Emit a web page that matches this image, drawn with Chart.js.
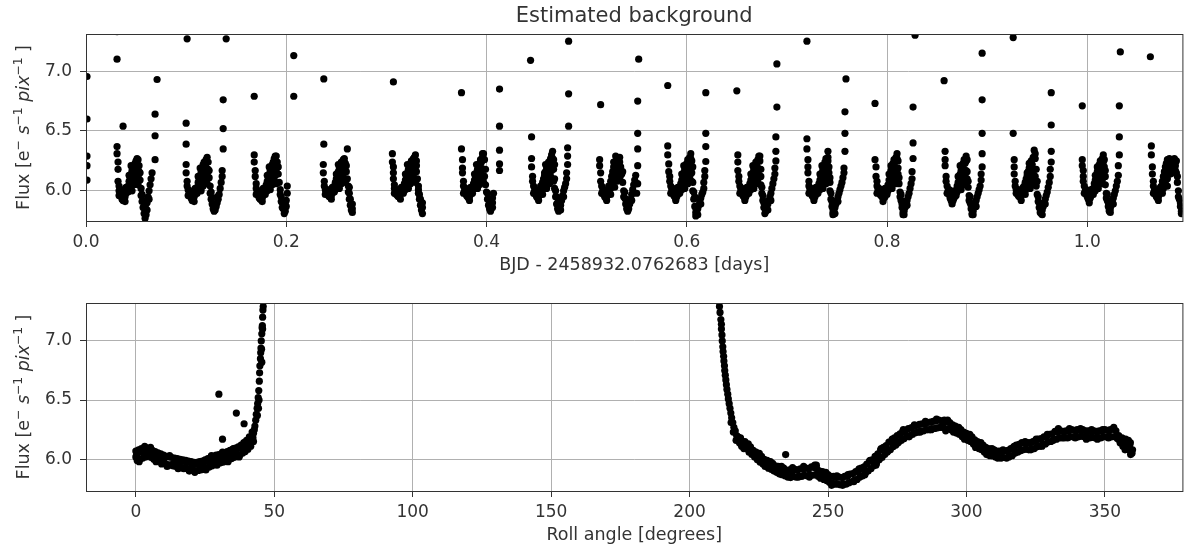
<!DOCTYPE html>
<html>
<head>
<meta charset="utf-8">
<script src="https://cdn.jsdelivr.net/npm/chart.js@4.4.1/dist/chart.umd.min.js"></script>
<style>
  body { margin: 0; background: #fff; }
  canvas { position: absolute; left: 0; }
  #timeChart { top: 0; }
  #rollChart { top: 276px; }
</style>
</head>
<body>
<canvas id="timeChart" width="1186" height="276"></canvas>
<canvas id="rollChart" width="1186" height="276"></canvas>
<script>
// background flux vs time, one block per orbit
const timeOrbits = [
  [0.031,6.37],[0.031,6.31],[0.032,6.24],[0.032,6.18],[0.032,6.08],[0.033,6.04],[0.033,6.00],
  [0.034,5.98],[0.035,5.96],[0.036,5.93],[0.037,5.92],[0.038,5.93],[0.039,5.95],
  [0.040,5.98],[0.041,6.01],[0.042,6.04],[0.043,6.08],[0.044,6.11],[0.045,6.14],[0.046,6.17],[0.047,6.20],[0.048,6.21],[0.049,6.23],[0.050,6.25],[0.051,6.23],[0.052,6.26],[0.053,6.21],
  [0.044,6.02],[0.046,6.06],[0.048,6.09],[0.049,6.13],[0.050,6.16],[0.051,6.19],[0.052,6.12],[0.053,6.16],
  [0.054,6.09],[0.055,6.02],[0.055,5.96],[0.056,5.91],[0.057,5.86],[0.058,5.81],[0.059,5.77],
  [0.060,5.80],[0.060,5.85],[0.061,5.90],[0.062,5.95],[0.063,6.00],[0.064,6.05],[0.065,6.10],[0.066,6.15],

  [0.100,6.22],[0.100,6.15],[0.101,6.08],[0.101,6.04],[0.102,6.01],
  [0.103,5.98],[0.104,5.96],[0.105,5.94],[0.106,5.92],[0.107,5.93],[0.108,5.95],
  [0.109,5.97],[0.110,6.00],[0.111,6.03],[0.112,6.07],[0.113,6.10],[0.114,6.13],[0.115,6.16],[0.116,6.19],[0.117,6.22],[0.118,6.24],[0.119,6.21],[0.120,6.26],[0.121,6.28],[0.122,6.24],
  [0.113,6.01],[0.115,6.04],[0.117,6.08],[0.118,6.12],[0.119,6.15],[0.120,6.19],[0.121,6.13],[0.122,6.18],
  [0.123,6.11],[0.124,6.04],[0.124,5.98],[0.125,5.93],[0.126,5.89],[0.127,5.85],[0.128,5.83],
  [0.129,5.84],[0.130,5.87],[0.131,5.90],[0.132,5.93],[0.133,5.97],[0.134,6.02],[0.135,6.07],[0.136,6.12],[0.136,6.17],

  [0.168,6.30],[0.168,6.24],[0.169,6.17],[0.169,6.12],[0.170,6.06],[0.170,6.02],
  [0.171,5.99],[0.172,5.96],[0.173,5.94],[0.174,5.93],[0.175,5.925],[0.176,5.94],[0.177,5.96],
  [0.178,5.99],[0.179,6.02],[0.180,6.05],[0.181,6.08],[0.182,6.11],[0.183,6.14],[0.184,6.17],[0.185,6.20],[0.186,6.22],[0.187,6.24],[0.188,6.27],[0.189,6.25],[0.190,6.29],[0.191,6.24],
  [0.181,6.00],[0.183,6.04],[0.185,6.08],[0.186,6.12],[0.187,6.16],[0.188,6.19],[0.189,6.13],[0.190,6.18],
  [0.192,6.14],[0.193,6.07],[0.194,6.01],[0.195,5.95],[0.196,5.90],[0.197,5.85],[0.198,5.81],
  [0.199,5.83],[0.200,5.87],[0.200,5.92],[0.201,5.98],[0.201,6.04],

  [0.237,6.22],[0.237,6.15],[0.238,6.08],[0.238,6.04],[0.239,6.01],
  [0.240,5.99],[0.241,5.97],[0.242,5.96],[0.243,5.95],[0.244,5.95],[0.245,5.96],[0.246,5.98],
  [0.247,6.01],[0.248,6.04],[0.249,6.07],[0.250,6.10],[0.251,6.13],[0.252,6.16],[0.253,6.19],[0.254,6.21],[0.255,6.24],[0.256,6.22],[0.257,6.26],[0.258,6.27],[0.259,6.23],
  [0.249,6.01],[0.251,6.05],[0.253,6.09],[0.254,6.13],[0.255,6.17],[0.256,6.19],[0.257,6.14],[0.258,6.18],
  [0.260,6.16],[0.261,6.35],[0.261,6.10],[0.262,6.04],[0.263,5.98],[0.263,5.93],[0.264,5.88],[0.265,5.84],[0.266,5.82],[0.266,5.85],

  [0.306,6.31],[0.306,6.24],[0.307,6.20],[0.307,6.15],[0.307,6.10],[0.308,6.05],[0.308,6.02],
  [0.309,5.99],[0.310,5.97],[0.311,5.96],[0.312,5.95],[0.313,5.95],[0.314,5.97],
  [0.316,6.00],[0.317,6.03],[0.318,6.06],[0.319,6.09],[0.320,6.12],[0.321,6.15],[0.322,6.18],[0.323,6.20],[0.324,6.23],[0.325,6.25],[0.326,6.22],[0.327,6.27],[0.329,6.30],[0.330,6.25],
  [0.319,6.01],[0.321,6.05],[0.323,6.09],[0.324,6.13],[0.325,6.16],[0.326,6.19],[0.327,6.12],[0.328,6.17],
  [0.330,6.16],[0.331,6.10],[0.332,6.04],[0.332,5.98],[0.333,5.93],[0.334,5.88],[0.335,5.84],[0.336,5.81],[0.336,5.86],

  [0.375,6.35],[0.376,6.26],[0.376,6.19],[0.376,6.15],[0.377,6.08],[0.377,6.04],
  [0.378,6.00],[0.379,5.98],[0.380,5.96],[0.381,5.95],[0.382,5.94],[0.383,5.95],[0.384,5.97],
  [0.385,6.00],[0.386,6.03],[0.387,6.06],[0.388,6.09],[0.389,6.12],[0.390,6.15],[0.391,6.18],[0.392,6.21],[0.393,6.23],[0.394,6.26],[0.395,6.24],[0.396,6.28],[0.397,6.31],[0.398,6.26],
  [0.388,6.02],[0.390,6.05],[0.392,6.09],[0.393,6.13],[0.394,6.16],[0.395,6.19],[0.396,6.13],[0.397,6.18],
  [0.398,6.12],[0.399,6.05],[0.400,5.99],[0.401,5.93],[0.402,5.88],[0.403,5.85],[0.404,5.83],
  [0.405,5.86],[0.406,5.90],[0.406,5.94],[0.407,5.98],

  [0.445,6.27],[0.445,6.20],[0.446,6.12],[0.446,6.08],[0.447,6.04],
  [0.448,6.00],[0.449,5.97],[0.450,5.95],[0.451,5.94],[0.452,5.95],[0.453,5.97],
  [0.454,6.00],[0.455,6.03],[0.456,6.07],[0.457,6.10],[0.458,6.13],[0.459,6.16],[0.460,6.19],[0.461,6.21],[0.462,6.24],[0.463,6.22],[0.464,6.27],[0.465,6.30],[0.466,6.33],[0.467,6.26],
  [0.456,6.01],[0.458,6.05],[0.460,6.09],[0.461,6.13],[0.462,6.16],[0.463,6.19],[0.464,6.12],[0.465,6.17],
  [0.467,6.18],[0.468,6.10],[0.468,6.02],[0.469,5.95],[0.470,5.89],[0.471,5.85],[0.472,5.83],
  [0.473,5.85],[0.474,5.88],[0.475,5.92],[0.476,5.96],[0.477,6.00],[0.478,6.03],[0.479,6.06],[0.480,6.10],[0.480,6.15],[0.481,6.22],[0.481,6.29],

  [0.513,6.26],[0.513,6.21],[0.514,6.15],[0.514,6.08],[0.515,6.04],
  [0.516,6.00],[0.517,5.97],[0.518,5.95],[0.519,5.94],[0.520,5.95],[0.521,5.97],
  [0.522,6.00],[0.523,6.04],[0.524,6.08],[0.525,6.12],[0.526,6.16],[0.527,6.20],[0.528,6.24],[0.529,6.29],[0.530,6.26],[0.531,6.22],[0.532,6.27],[0.533,6.24],[0.534,6.20],
  [0.524,6.02],[0.526,6.06],[0.528,6.10],[0.529,6.14],[0.530,6.17],[0.531,6.12],[0.532,6.16],[0.533,6.10],
  [0.535,6.14],[0.536,6.07],[0.537,6.00],[0.538,5.94],[0.539,5.89],[0.540,5.85],[0.541,5.83],
  [0.542,5.85],[0.543,5.89],[0.544,5.93],[0.545,5.97],[0.546,6.01],[0.547,6.05],[0.548,6.09],[0.549,6.13],[0.550,6.06],[0.550,5.98],

  [0.581,6.30],[0.582,6.225],[0.582,6.16],[0.583,6.12],[0.583,6.08],[0.584,6.04],
  [0.585,6.01],[0.586,5.98],[0.587,5.96],[0.588,5.95],[0.589,5.94],[0.590,5.95],[0.591,5.97],
  [0.592,6.00],[0.593,6.03],[0.594,6.06],[0.595,6.09],[0.596,6.12],[0.597,6.15],[0.598,6.18],[0.599,6.20],[0.600,6.23],[0.601,6.26],[0.602,6.23],[0.603,6.28],[0.604,6.31],[0.605,6.25],
  [0.595,6.01],[0.597,6.05],[0.599,6.09],[0.600,6.13],[0.601,6.16],[0.602,6.19],[0.603,6.12],[0.604,6.17],
  [0.605,6.15],[0.606,6.07],[0.606,6.00],[0.607,5.93],[0.608,5.87],[0.609,5.82],[0.609,5.79],
  [0.610,5.82],[0.611,5.85],[0.612,5.88],[0.613,5.91],[0.614,5.94],[0.615,5.97],[0.616,5.99],[0.617,6.02],[0.617,6.07],[0.618,6.12],[0.618,6.17],

  [0.651,6.30],[0.651,6.24],[0.651,6.17],[0.652,6.12],[0.652,6.08],[0.653,6.04],
  [0.654,6.01],[0.655,5.98],[0.656,5.96],[0.657,5.95],[0.658,5.94],[0.659,5.95],[0.660,5.97],
  [0.661,6.00],[0.662,6.03],[0.663,6.06],[0.664,6.09],[0.665,6.12],[0.666,6.15],[0.667,6.18],[0.668,6.21],[0.669,6.24],[0.670,6.22],[0.671,6.26],[0.672,6.29],[0.673,6.25],
  [0.664,6.01],[0.666,6.05],[0.668,6.09],[0.669,6.13],[0.670,6.16],[0.671,6.19],[0.672,6.13],[0.673,6.18],
  [0.674,6.12],[0.674,6.05],[0.675,5.98],[0.676,5.92],[0.677,5.86],[0.678,5.81],[0.679,5.83],
  [0.680,5.86],[0.681,5.89],[0.682,5.92],[0.683,5.95],[0.684,5.98],[0.685,6.02],[0.686,6.06],[0.687,6.10],[0.688,6.14],[0.688,6.19],[0.689,6.25],

  [0.720,6.35],[0.721,6.26],[0.721,6.20],[0.721,6.15],[0.722,6.08],[0.722,6.04],
  [0.723,6.01],[0.724,5.98],[0.725,5.96],[0.726,5.95],[0.727,5.94],[0.728,5.95],[0.729,5.97],
  [0.730,6.00],[0.731,6.03],[0.732,6.06],[0.733,6.09],[0.734,6.12],[0.735,6.15],[0.736,6.18],[0.737,6.21],[0.738,6.24],[0.739,6.27],[0.740,6.24],[0.741,6.33],[0.741,6.28],
  [0.733,6.01],[0.735,6.05],[0.736,6.09],[0.737,6.13],[0.738,6.16],[0.739,6.19],[0.740,6.14],[0.741,6.18],
  [0.742,6.15],[0.743,6.07],[0.743,6.00],[0.744,5.93],[0.745,5.87],[0.746,5.82],[0.746,5.80],
  [0.747,5.83],[0.748,5.86],[0.749,5.89],[0.750,5.92],[0.751,5.95],[0.752,5.98],[0.753,6.01],[0.754,6.04],[0.755,6.07],[0.756,6.11],[0.757,6.15],[0.757,6.19],

  [0.788,6.26],[0.789,6.20],[0.789,6.12],[0.790,6.08],[0.790,6.04],
  [0.791,6.01],[0.792,5.99],[0.793,5.97],[0.794,5.96],[0.795,5.95],[0.796,5.94],[0.797,5.94],[0.798,5.95],
  [0.799,5.98],[0.800,6.01],[0.801,6.05],[0.802,6.09],[0.803,6.13],[0.804,6.17],[0.805,6.20],[0.806,6.23],[0.807,6.26],[0.808,6.24],[0.809,6.28],[0.810,6.31],[0.811,6.25],
  [0.801,6.00],[0.803,6.04],[0.805,6.08],[0.806,6.12],[0.807,6.16],[0.808,6.19],[0.809,6.13],[0.810,6.18],
  [0.811,6.14],[0.812,6.06],[0.813,5.99],[0.814,5.92],[0.815,5.86],[0.816,5.82],[0.816,5.80],
  [0.817,5.83],[0.818,5.86],[0.819,5.89],[0.820,5.92],[0.821,5.95],[0.822,5.98],[0.823,6.02],[0.824,6.06],[0.825,6.10],[0.825,6.16],

  [0.858,6.33],[0.858,6.26],[0.858,6.21],[0.859,6.12],[0.859,6.08],[0.860,6.04],
  [0.861,6.00],[0.862,5.97],[0.863,5.94],[0.864,5.92],[0.865,5.91],[0.866,5.92],[0.867,5.94],
  [0.868,5.97],[0.869,6.00],[0.870,6.04],[0.871,6.07],[0.872,6.11],[0.873,6.14],[0.874,6.17],[0.875,6.20],[0.876,6.23],[0.877,6.26],[0.878,6.23],[0.879,6.29],[0.880,6.26],
  [0.870,5.99],[0.872,6.03],[0.874,6.07],[0.875,6.11],[0.876,6.15],[0.877,6.18],[0.878,6.12],[0.879,6.17],
  [0.880,6.10],[0.881,6.03],[0.882,5.96],[0.883,5.90],[0.884,5.85],[0.885,5.81],[0.885,5.80],
  [0.886,5.83],[0.887,5.86],[0.888,5.89],[0.889,5.92],[0.890,5.95],[0.891,5.98],[0.892,6.01],[0.893,6.04],[0.894,6.09],[0.894,6.14],[0.895,6.20],

  [0.927,6.26],[0.927,6.20],[0.927,6.14],[0.928,6.08],[0.928,6.04],
  [0.929,6.01],[0.930,5.98],[0.931,5.96],[0.932,5.95],[0.933,5.95],[0.934,5.96],[0.935,5.98],
  [0.936,6.01],[0.937,6.04],[0.938,6.07],[0.939,6.10],[0.940,6.13],[0.941,6.16],[0.942,6.19],[0.943,6.22],[0.944,6.25],[0.945,6.22],[0.946,6.28],[0.947,6.34],[0.948,6.27],
  [0.938,6.00],[0.940,6.04],[0.942,6.08],[0.943,6.12],[0.944,6.16],[0.945,6.19],[0.946,6.13],[0.947,6.18],
  [0.948,6.12],[0.949,6.04],[0.950,5.97],[0.951,5.91],[0.952,5.86],[0.953,5.82],[0.954,5.81],
  [0.955,5.84],[0.956,5.87],[0.957,5.90],[0.958,5.93],[0.959,5.96],[0.960,5.99],[0.961,6.03],[0.962,6.07],[0.963,6.12],[0.963,6.18],[0.964,6.24],

  [0.995,6.26],[0.995,6.21],[0.996,6.17],[0.996,6.12],[0.996,6.08],[0.997,6.04],
  [0.998,6.00],[0.999,5.97],[1.000,5.95],[1.001,5.93],[1.002,5.93],[1.003,5.94],[1.004,5.96],
  [1.005,5.99],[1.006,6.02],[1.007,6.06],[1.008,6.09],[1.009,6.12],[1.010,6.16],[1.011,6.19],[1.012,6.22],[1.013,6.25],[1.014,6.22],[1.015,6.27],[1.016,6.30],[1.017,6.26],
  [1.008,6.00],[1.010,6.04],[1.012,6.08],[1.013,6.12],[1.014,6.15],[1.015,6.18],[1.016,6.12],[1.017,6.17],
  [1.018,6.12],[1.018,6.05],[1.019,5.98],[1.020,5.92],[1.021,5.87],[1.022,5.84],[1.022,5.83],
  [1.023,5.85],[1.024,5.88],[1.025,5.91],[1.026,5.94],[1.027,5.97],[1.028,6.00],[1.029,6.04],[1.030,6.08],[1.031,6.13],[1.031,6.21],

  [1.064,6.375],[1.064,6.30],[1.065,6.20],[1.065,6.14],[1.066,6.08],[1.066,6.04],
  [1.067,6.00],[1.068,5.97],[1.069,5.95],[1.070,5.94],[1.071,5.95],[1.072,5.97],
  [1.073,6.00],[1.074,6.04],[1.075,6.08],[1.076,6.12],[1.077,6.16],[1.078,6.20],[1.079,6.23],[1.080,6.26],[1.081,6.24],[1.082,6.27],[1.083,6.25],[1.084,6.22],[1.085,6.26],[1.086,6.24],[1.087,6.27],[1.088,6.21],
  [1.076,6.02],[1.078,6.06],[1.080,6.10],[1.081,6.14],[1.082,6.18],[1.083,6.20],[1.085,6.15],[1.087,6.18],
  [1.089,6.15],[1.090,6.07],[1.091,6.00],[1.092,5.93],[1.093,5.87],[1.094,5.83],[1.094,5.81],[1.095,5.85]
];

// looser points that thicken each orbit's blob
const timeSpread = [
  [0.033,5.96],[0.035,6.01],[0.037,5.97],[0.039,5.91],[0.040,6.03],[0.042,5.99],[0.043,6.13],[0.045,6.21],[0.046,6.00],[0.047,6.13],[0.048,6.05],[0.050,6.10],[0.051,6.27],[0.052,6.05],[0.054,6.15],[0.056,5.97],[0.057,5.92],[0.058,5.87],[0.061,5.84],[0.063,5.93],
  [0.102,5.96],[0.104,6.00],[0.106,5.97],[0.108,5.91],[0.109,6.02],[0.111,5.98],[0.112,6.12],[0.114,6.19],[0.115,6.00],[0.116,6.12],[0.117,6.04],[0.119,6.08],[0.120,6.23],[0.121,6.06],[0.123,6.17],[0.125,5.99],[0.126,5.94],[0.127,5.88],[0.129,5.87],[0.131,5.95],
  [0.170,5.97],[0.172,6.00],[0.174,5.98],[0.176,5.91],[0.177,6.02],[0.179,5.97],[0.181,6.13],[0.183,6.20],[0.184,6.01],[0.185,6.13],[0.186,6.05],[0.188,6.09],[0.189,6.29],[0.190,6.06],[0.192,6.20],[0.194,5.97],[0.195,5.91],[0.196,5.86],[0.198,5.86],[0.199,5.90],
  [0.239,5.97],[0.241,6.01],[0.243,5.98],[0.245,5.93],[0.246,6.03],[0.248,5.99],[0.250,6.14],[0.252,6.22],[0.253,6.02],[0.254,6.14],[0.255,6.06],[0.257,6.10],[0.258,6.24],[0.259,6.07],[0.260,6.21],[0.262,5.99],[0.263,6.03],[0.264,5.93],[0.265,5.88],[0.266,5.89],
  [0.308,5.98],[0.310,6.01],[0.312,5.98],[0.314,5.93],[0.315,6.03],[0.317,5.98],[0.319,6.14],[0.321,6.22],[0.322,6.02],[0.323,6.15],[0.324,6.06],[0.326,6.10],[0.328,6.28],[0.329,6.07],[0.330,6.21],[0.332,6.01],[0.333,5.97],[0.334,5.93],[0.335,5.88],[0.336,5.90],
  [0.377,5.98],[0.379,6.02],[0.381,5.98],[0.383,5.92],[0.384,6.03],[0.386,5.98],[0.388,6.14],[0.390,6.22],[0.391,6.02],[0.392,6.14],[0.393,6.05],[0.395,6.10],[0.396,6.31],[0.397,6.07],[0.399,6.18],[0.401,5.98],[0.402,5.93],[0.403,5.89],[0.404,5.87],[0.406,5.86],
  [0.447,5.98],[0.449,6.01],[0.451,5.98],[0.452,5.92],[0.454,6.04],[0.456,5.97],[0.458,6.15],[0.459,6.22],[0.460,6.02],[0.462,6.13],[0.463,6.06],[0.464,6.09],[0.466,6.27],[0.467,6.08],[0.468,6.22],[0.469,6.00],[0.470,5.95],[0.471,5.90],[0.474,5.84],[0.477,5.95],
  [0.515,5.98],[0.517,6.01],[0.519,5.98],[0.520,5.92],[0.522,6.04],[0.524,5.97],[0.526,6.13],[0.527,6.24],[0.528,6.03],[0.529,6.21],[0.530,6.08],[0.532,6.09],[0.533,6.28],[0.534,6.13],[0.536,6.16],[0.537,5.95],[0.538,5.99],[0.539,5.93],[0.542,5.89],[0.545,5.92],
  [0.584,5.98],[0.586,6.02],[0.588,5.98],[0.589,5.92],[0.591,6.03],[0.593,5.98],[0.595,6.14],[0.597,6.21],[0.598,6.02],[0.600,6.15],[0.601,6.06],[0.602,6.10],[0.604,6.27],[0.605,6.08],[0.606,6.20],[0.607,5.99],[0.608,5.95],[0.609,5.86],[0.611,5.80],[0.614,5.89],
  [0.653,5.98],[0.655,6.02],[0.657,5.98],[0.658,5.92],[0.660,6.03],[0.662,5.98],[0.664,6.14],[0.666,6.21],[0.667,6.02],[0.669,6.16],[0.670,6.06],[0.671,6.09],[0.673,6.29],[0.674,6.18],[0.675,6.03],[0.676,5.96],[0.677,5.90],[0.679,5.86],[0.681,5.84],[0.684,5.92],
  [0.722,5.98],[0.724,6.02],[0.726,5.98],[0.727,5.92],[0.729,6.03],[0.731,5.98],[0.733,6.14],[0.735,6.21],[0.736,6.02],[0.738,6.15],[0.739,6.06],[0.740,6.09],[0.741,6.25],[0.742,6.20],[0.743,6.11],[0.744,5.98],[0.745,5.91],[0.746,5.85],[0.748,5.81],[0.751,5.91],
  [0.790,5.98],[0.792,6.02],[0.794,5.99],[0.796,5.91],[0.798,6.02],[0.800,5.97],[0.802,6.14],[0.804,6.21],[0.805,6.02],[0.807,6.14],[0.808,6.06],[0.809,6.09],[0.810,6.27],[0.811,6.19],[0.812,6.11],[0.813,5.95],[0.814,5.97],[0.815,5.89],[0.817,5.80],[0.820,5.88],
  [0.860,5.98],[0.862,6.01],[0.864,5.97],[0.865,5.89],[0.867,6.00],[0.869,5.96],[0.871,6.12],[0.873,6.21],[0.874,6.01],[0.876,6.13],[0.877,6.05],[0.878,6.08],[0.879,6.25],[0.880,6.16],[0.881,6.08],[0.882,5.92],[0.883,5.95],[0.884,5.88],[0.886,5.80],[0.889,5.87],
  [0.929,5.98],[0.931,6.01],[0.933,5.98],[0.934,5.92],[0.936,6.03],[0.938,5.97],[0.940,6.15],[0.942,6.23],[0.943,6.02],[0.945,6.15],[0.946,6.06],[0.947,6.10],[0.948,6.31],[0.949,6.18],[0.950,6.08],[0.951,5.95],[0.952,5.90],[0.953,5.85],[0.955,5.80],[0.958,5.89],
  [0.997,5.98],[0.999,6.01],[1.001,5.97],[1.002,5.90],[1.004,6.01],[1.006,5.97],[1.008,6.13],[1.010,6.20],[1.011,6.02],[1.013,6.14],[1.014,6.06],[1.015,6.09],[1.016,6.24],[1.017,6.20],[1.018,6.17],[1.019,5.94],[1.020,5.97],[1.021,5.90],[1.023,5.82],[1.026,5.89],
  [1.066,5.98],[1.068,6.01],[1.070,5.97],[1.071,5.92],[1.073,6.03],[1.075,5.98],[1.077,6.12],[1.079,6.18],[1.080,6.04],[1.082,6.22],[1.083,6.14],[1.084,6.17],[1.085,6.21],[1.086,6.19],[1.087,6.23],[1.088,6.17],[1.089,6.25],[1.090,6.12],[1.091,5.95],[1.093,5.90]
];

// isolated high points (start / end of each orbit)
const timeOutliers = [
  [0.001,6.955],[0.001,6.60],[0.001,6.29],[0.001,6.21],[0.001,6.09],
  [0.031,7.33],[0.031,7.10],[0.037,6.54],
  [0.069,6.26],[0.069,6.46],[0.069,6.64],[0.071,6.93],
  [0.100,6.565],[0.100,6.39],[0.101,7.27],
  [0.137,6.35],[0.137,6.52],[0.137,6.76],[0.140,7.27],
  [0.168,6.79],[0.2075,7.13],[0.2075,6.79],
  [0.2375,6.935],[0.2375,6.39],
  [0.307,6.91],
  [0.375,6.82],
  [0.413,6.17],[0.413,6.225],[0.413,6.34],[0.413,6.54],[0.413,6.85],
  [0.444,7.09],[0.445,6.45],
  [0.481,6.36],[0.482,6.54],[0.482,6.81],[0.482,7.25],
  [0.514,6.72],
  [0.551,6.06],[0.551,6.21],[0.551,6.35],[0.551,6.48],[0.551,6.75],[0.552,7.10],
  [0.581,6.88],[0.581,6.375],
  [0.619,6.245],[0.619,6.37],[0.619,6.48],[0.619,6.82],
  [0.650,6.835],
  [0.689,6.33],[0.689,6.45],[0.690,6.70],[0.690,7.06],
  [0.720,7.25],[0.720,6.435],
  [0.758,6.33],[0.758,6.48],[0.758,6.66],[0.759,6.935],
  [0.788,6.73],
  [0.826,6.27],[0.826,6.40],[0.826,6.70],[0.828,7.30],
  [0.857,6.92],
  [0.895,6.31],[0.895,6.48],[0.895,6.76],[0.895,7.15],
  [0.926,7.28],[0.926,6.48],
  [0.964,6.33],[0.964,6.55],[0.964,6.82],
  [0.995,6.71],
  [1.032,6.30],[1.032,6.45],[1.032,6.71],[1.033,7.16],
  [1.063,7.12]
];

// same flux against roll angle, first arc 0-46 deg
const rollLow = [
  [0,6.07],[0,6.02],[0.5,5.99],[1,6.08],[1.5,6.00],[2,6.09],[2.5,6.01],[3,6.085],[3.5,6.02],[4,6.095],[4.5,6.03],
  [5,6.09],[5.5,6.015],[6,6.075],[6.5,6.00],[7,6.065],[7.5,5.995],[8,6.055],[8.5,5.985],[9,6.045],[9.5,5.975],
  [10,6.035],[10.5,5.965],[11,6.025],[11.5,5.955],[12,6.02],[12.5,5.95],[13,6.015],[13.5,5.945],[14,6.01],[14.5,5.94],
  [15,6.005],[15.5,5.935],[16,6.00],[16.5,5.93],[17,5.995],[17.5,5.925],[18,5.99],[18.5,5.92],[19,5.985],[19.5,5.915],
  [20,5.98],[20.5,5.91],[21,5.975],[21.5,5.905],[22,5.975],[22.5,5.905],[23,5.98],[23.5,5.91],[24,5.985],[24.5,5.915],
  [25,5.995],[25.5,5.925],[26,6.005],[26.5,5.935],[27,6.015],[27.5,5.945],[28,6.025],[28.5,5.955],[29,6.035],[29.5,5.965],
  [30,6.04],[30.5,5.97],[31,6.045],[31.5,5.975],[32,6.055],[32.5,5.985],[33,6.065],[33.5,5.995],[34,6.075],[34.5,6.005],
  [35,6.085],[35.5,6.015],[36,6.095],[36.5,6.025],[37,6.105],[37.5,6.035],[38,6.12],[38.5,6.05],[39,6.14],[39.5,6.065],
  [40,6.16],[40.5,6.085],[41,6.19],[41.5,6.11],[42,6.23],[42.5,6.15],[42.5,6.22],[43,6.28],[43.3,6.33],[43.5,6.38],
  [43.8,6.43],[43.9,6.37],[44,6.47],[44.2,6.52],[44.3,6.43],[44.4,6.58],[44.5,6.50],[44.6,6.66],[44.7,6.73],[44.8,6.79],
  [45,6.85],[45.1,6.90],[45.2,6.94],[45.3,7.00],[45.4,6.93],[45.5,7.06],[45.5,6.82],[45.6,7.11],[45.7,7.13],[45.8,7.20],
  [45.8,7.10],[45.9,7.26],[46,7.29],[46.1,7.33],
  [30.0,6.55],[31.3,6.17],[36.3,6.39],[39.1,6.30],
  [0.3,6.04],[1.2,5.98],[2.3,6.06],[3.2,6.11],[4.2,6.05],[5.3,6.10],[6.2,6.04],[7.3,5.98],[8.2,6.03],[9.3,5.96],
  [10.2,6.01],[11.3,5.94],[12.2,6.03],[13.3,5.96],[14.2,5.98],[15.3,5.92],[16.2,5.98],[17.3,5.92],[18.2,5.97],[19.3,5.90],
  [20.2,5.95],[21.3,5.89],[22.2,5.96],[23.3,5.93],[24.2,5.97],[25.3,5.91],[26.2,5.98],[27.3,6.03],[28.2,5.99],[29.3,5.95],
  [30.2,6.01],[31.3,6.06],[32.2,6.02],[33.3,5.98],[34.2,6.04],[35.3,6.09],[36.2,6.06],[37.3,6.02],[38.2,6.09],[39.3,6.14],
  [40.2,6.12],[41.2,6.15],[41.8,6.19],[42.3,6.18],[42.8,6.25]
];

// second arc 211-360 deg
const rollHigh = [
  [210.6,7.33],[210.8,7.29],[211.0,7.24],[211.3,7.18],[211.5,7.14],[211.5,7.10],[211.7,7.05],[211.8,7.00],[212.0,6.95],[212.1,6.91],
  [212.3,6.87],[212.4,6.83],[212.6,6.79],[212.7,6.75],[212.9,6.71],[213.1,6.67],[213.3,6.63],[213.5,6.59],[213.8,6.55],[214.0,6.51],
  [214.3,6.47],[214.6,6.43],[214.9,6.39],[215.2,6.35],[215.0,6.31],[215.6,6.31],[216.0,6.27],[215.8,6.23],[216.5,6.24],[217.0,6.20],
  [216.8,6.16],[217.5,6.19],[218.0,6.14],[218.4,6.18],[218.8,6.11],[219.2,6.15],[219.6,6.09],[220.2,6.13],
  [220,6.15],[220.5,6.09],[221,6.11],[221.5,6.06],[222,6.105],[222.5,6.04],[223,6.075],[223.5,6.02],[224,6.06],[224.5,5.995],
  [225,6.03],[225.5,5.975],[226,6.025],[226.5,5.96],[227,6.00],[227.5,5.945],[228,5.99],[228.5,5.925],[229,5.965],[229.5,5.915],
  [230,5.965],[230.5,5.90],[231,5.945],[231.5,5.89],[232,5.94],[232.5,5.875],[233,5.92],[233.5,5.87],[234,5.925],[234.5,5.86],
  [235,5.905],[235.5,5.85],[236,5.91],[236.5,5.845],[237,5.90],[237.5,5.855],[238,5.915],[238.5,5.85],[239,5.91],[239.5,5.86],
  [240,5.92],[240.5,5.855],[241,5.915],[241.5,5.865],[242,5.925],[242.5,5.86],[243,5.92],[243.5,5.87],[244,5.935],[244.5,5.865],
  [245,5.93],[245.5,5.87],[245.8,5.95],[246,5.92],[246.5,5.855],[247,5.90],[247.5,5.845],[248,5.895],[248.5,5.83],[249,5.875],[249.5,5.82],
  [250,5.87],[250.5,5.805],[251,5.855],[251.5,5.80],[252,5.855],[252.5,5.79],[253,5.845],[253.5,5.79],[254,5.85],[254.5,5.785],
  [255,5.845],[255.5,5.795],[256,5.855],[256.5,5.79],[257,5.855],[257.5,5.80],[258,5.875],[258.5,5.81],[259,5.88],[259.5,5.825],
  [260,5.895],[260.5,5.83],[261,5.90],[261.5,5.85],[262,5.925],[262.5,5.86],[263,5.935],[263.5,5.885],[264,5.96],[264.5,5.90],
  [265,5.985],[265.5,5.92],[266,5.995],[266.5,5.945],[267,6.025],[267.5,5.965],[268,6.045],[268.5,5.995],[269,6.08],[269.5,6.015],
  [270,6.10],[270.5,6.04],[271,6.115],[271.5,6.065],[272,6.145],[272.5,6.08],[273,6.155],[273.5,6.105],[274,6.18],[274.5,6.12],
  [275,6.20],[275.5,6.145],[276,6.215],[276.5,6.16],[277,6.235],[277.5,6.175],[278,6.245],[278.5,6.195],[279,6.26],[279.5,6.20],
  [280,6.265],[280.5,6.21],[281,6.28],[281.5,6.225],[282,6.285],[282.5,6.23],[283,6.295],[283.5,6.24],[284,6.30],[284.5,6.24],
  [285,6.30],[285.5,6.25],[286,6.31],[286.5,6.25],[287,6.315],[287.5,6.26],[288,6.32],[288.5,6.26],[289,6.325],[289.5,6.265],
  [290,6.33],[290.5,6.27],[291,6.325],[291.5,6.275],[292,6.33],[292.5,6.24],[293,6.315],[293.5,6.26],[294,6.31],[294.5,6.25],
  [295,6.29],[295.5,6.24],[296,6.28],[296.5,6.22],[297,6.26],[297.5,6.21],[298,6.25],[298.5,6.19],[299,6.23],[299.5,6.18],
  [300,6.22],[300.5,6.16],[301,6.20],[301.5,6.15],[302,6.19],[302.5,6.13],[303,6.165],[303.5,6.115],[304,6.15],[304.5,6.09],
  [305,6.13],[305.5,6.08],[306,6.12],[306.5,6.06],[307,6.10],[307.5,6.05],[308,6.09],[308.5,6.03],[309,6.08],[309.5,6.03],
  [310,6.08],[310.5,6.02],[311,6.07],[311.5,6.02],[312,6.07],[312.5,6.01],[313,6.065],[313.5,6.015],[314,6.07],[314.5,6.01],
  [315,6.075],[315.5,6.025],[316,6.09],[316.5,6.03],[317,6.10],[317.5,6.05],[318,6.12],[318.5,6.06],[319,6.125],[319.5,6.075],
  [320,6.14],[320.5,6.08],[321,6.135],[321.5,6.085],[322,6.14],[322.5,6.08],[323,6.14],[323.5,6.09],[324,6.15],[324.5,6.09],
  [325,6.155],[325.5,6.105],[326,6.17],[326.5,6.11],[327,6.175],[327.5,6.125],[328,6.19],[328.5,6.13],[329,6.195],[329.5,6.145],
  [330,6.21],[330.5,6.15],[331,6.215],[331.5,6.165],[332,6.235],[332.5,6.17],[333,6.23],[333.5,6.18],[334,6.24],[334.5,6.18],
  [335,6.235],[335.5,6.185],[336,6.24],[336.5,6.18],[337,6.24],[337.5,6.19],[338,6.25],[338.5,6.19],[339,6.245],[339.5,6.195],
  [340,6.25],[340.5,6.19],[341,6.245],[341.5,6.195],[342,6.25],[342.5,6.19],[343,6.24],[343.5,6.19],[344,6.24],[344.5,6.18],
  [345,6.235],[345.5,6.185],[346,6.24],[346.5,6.18],[347,6.235],[347.5,6.185],[348,6.24],[348.5,6.18],[349,6.24],[349.5,6.19],
  [350,6.25],[350.5,6.19],[351,6.245],[351.5,6.195],[352,6.25],[352.5,6.19],[353,6.255],[353.5,6.19],[354,6.24],[354.5,6.175],
  [355,6.20],[355.5,6.14],[356,6.17],[356.5,6.11],[357,6.16],[357.5,6.10],[357.5,6.17],[358,6.14],[358.5,6.08],[358.5,6.16],
  [359,6.12],[359.2,6.14],[359.5,6.06],[359.8,6.05],[360,6.08],
  [234.7,6.04],
  [221.2,6.13],[223.3,6.04],[225.2,6.05],[227.3,5.94],[229.2,5.98],[231.3,5.90],[233.2,5.94],[235.3,5.86],[237.2,5.93],[239.3,5.85],
  [241.2,5.94],[243.3,5.85],[245.2,5.95],[247.3,5.84],[249.2,5.89],[251.3,5.78],[253.2,5.86],[255.3,5.78],[257.2,5.87],[259.3,5.81],
  [261.2,5.92],[263.3,5.87],[265.2,5.99],[267.3,5.95],[269.2,6.09],[271.3,6.06],[273.2,6.17],[275.3,6.14],[277.2,6.25],[279.3,6.19],
  [281.2,6.29],[283.3,6.23],[285.2,6.32],[287.3,6.25],[289.2,6.34],[291.3,6.27],[293.2,6.33],[295.3,6.23],[297.2,6.27],[299.3,6.17],
  [301.2,6.21],[303.3,6.10],[305.2,6.14],[307.3,6.04],[309.2,6.09],[311.3,6.01],[313.2,6.08],[315.3,6.02],[317.2,6.11],[319.3,6.07],
  [321.2,6.15],[323.3,6.08],[325.2,6.17],[327.3,6.11],[329.2,6.21],[331.3,6.16],[333.2,6.26],[335.3,6.18],[337.2,6.26],[339.3,6.18],
  [341.2,6.26],[343.3,6.17],[345.2,6.25],[347.3,6.17],[349.2,6.25],[351.3,6.18],[353.2,6.27],[355.3,6.16],[356.2,6.18],[357.3,6.08],
  [358.2,6.13],[359.3,6.04]
];

const yTicks = [6.0, 6.5, 7.0];
const timeTicks = [0, 0.2, 0.4, 0.6, 0.8, 1.0];
const rollTicks = [0, 50, 100, 150, 200, 250, 300, 350];

const FONT = 'DejaVu Sans';
const TICK_SIZE = 17;
const LABEL_SIZE = 17.5;
const INK = '#333';

function drawYLabel(ctx, x, y) {
  const big = LABEL_SIZE, small = LABEL_SIZE * 0.7;
  const parts = [
    { t: 'Flux [e', f: big + 'px "' + FONT + '"', up: 0 },
    { t: '\u2212', f: small + 'px "' + FONT + '"', up: 7.5 },
    { t: ' ', f: big + 'px "' + FONT + '"', up: 0 },
    { t: 's', f: 'italic ' + big + 'px "' + FONT + '"', up: 0 },
    { t: '\u22121', f: small + 'px "' + FONT + '"', up: 7.5 },
    { t: ' ', f: big + 'px "' + FONT + '"', up: 0 },
    { t: 'pix', f: 'italic ' + big + 'px "' + FONT + '"', up: 0 },
    { t: '\u22121', f: small + 'px "' + FONT + '"', up: 7.5 },
    { t: ' ]', f: big + 'px "' + FONT + '"', up: 0 }
  ];
  let w = 0;
  parts.forEach(p => { ctx.font = p.f; p.w = ctx.measureText(p.t).width; w += p.w; });
  ctx.save();
  ctx.translate(x, y);
  ctx.rotate(-Math.PI / 2);
  ctx.textAlign = 'left';
  ctx.textBaseline = 'alphabetic';
  let pos = -w / 2;
  parts.forEach(p => { ctx.font = p.f; ctx.fillText(p.t, pos, -p.up); pos += p.w; });
  ctx.restore();
}

const decorations = {
  id: 'decorations',
  afterDraw(chart, args, o) {
    const { ctx, chartArea: a } = chart;
    ctx.save();
    ctx.strokeStyle = INK;
    ctx.lineWidth = 1;
    ctx.strokeRect(a.left + 0.5, a.top + 0.5, a.right - a.left, a.bottom - a.top);
    ctx.fillStyle = INK;
    ctx.textAlign = 'center';
    ctx.textBaseline = 'alphabetic';
    const cx = (a.left + a.right) / 2;
    if (o.title) {
      ctx.font = '21px "' + FONT + '"';
      ctx.fillText(o.title, cx, 22);
    }
    ctx.font = LABEL_SIZE + 'px "' + FONT + '"';
    ctx.fillText(o.xlabel, cx, a.bottom + 49);
    drawYLabel(ctx, 29, (a.top + a.bottom) / 2);
    ctx.restore();
  }
};

function makeChart(id, datasets, xr, xt, xfmt, yr, axisH, padTop, opts) {
  return new Chart(document.getElementById(id).getContext('2d'), {
    type: 'scatter',
    data: {
      datasets: datasets.map(d => ({
        data: d.map(p => ({ x: p[0], y: p[1] })),
        backgroundColor: '#000',
        borderWidth: 0,
        pointRadius: 3.6,
        pointHoverRadius: 3.6,
        clip: 0
      }))
    },
    options: {
      responsive: false,
      animation: false,
      devicePixelRatio: 1,
      layout: { padding: { top: padTop, right: 3, left: 0, bottom: 0 } },
      plugins: { legend: { display: false }, tooltip: { enabled: false }, decorations: opts },
      scales: {
        x: {
          type: 'linear', min: xr[0], max: xr[1],
          afterBuildTicks: s => { s.ticks = xt.map(v => ({ value: v })); },
          afterFit: s => { s.height = axisH; },
          grid: { color: '#b0b0b0', lineWidth: 1, tickColor: INK, tickLength: 6, drawTicks: true },
          border: { display: false },
          ticks: { autoSkip: false, maxRotation: 0, padding: 5, color: INK,
                   font: { family: FONT, size: TICK_SIZE }, callback: xfmt }
        },
        y: {
          type: 'linear', min: yr[0], max: yr[1],
          afterBuildTicks: s => { s.ticks = yTicks.map(v => ({ value: v })); },
          afterFit: s => { s.width = 86; },
          grid: { color: '#b0b0b0', lineWidth: 1, tickColor: INK, tickLength: 6, drawTicks: true },
          border: { display: false },
          ticks: { autoSkip: false, padding: 8, color: INK,
                   font: { family: FONT, size: TICK_SIZE }, callback: v => v.toFixed(1) }
        }
      }
    },
    plugins: [decorations]
  });
}

makeChart('timeChart', [timeOrbits, timeSpread, timeOutliers], [0, 1.095], timeTicks, v => v.toFixed(1),
  [5.748, 7.31], 55, 34,
  { title: 'Estimated background', xlabel: 'BJD - 2458932.0762683 [days]' });

makeChart('rollChart', [rollLow, rollHigh], [-18, 378], rollTicks, v => String(v),
  [5.732, 7.32], 61, 27,
  { xlabel: 'Roll angle [degrees]' });
</script>
</body>
</html>
